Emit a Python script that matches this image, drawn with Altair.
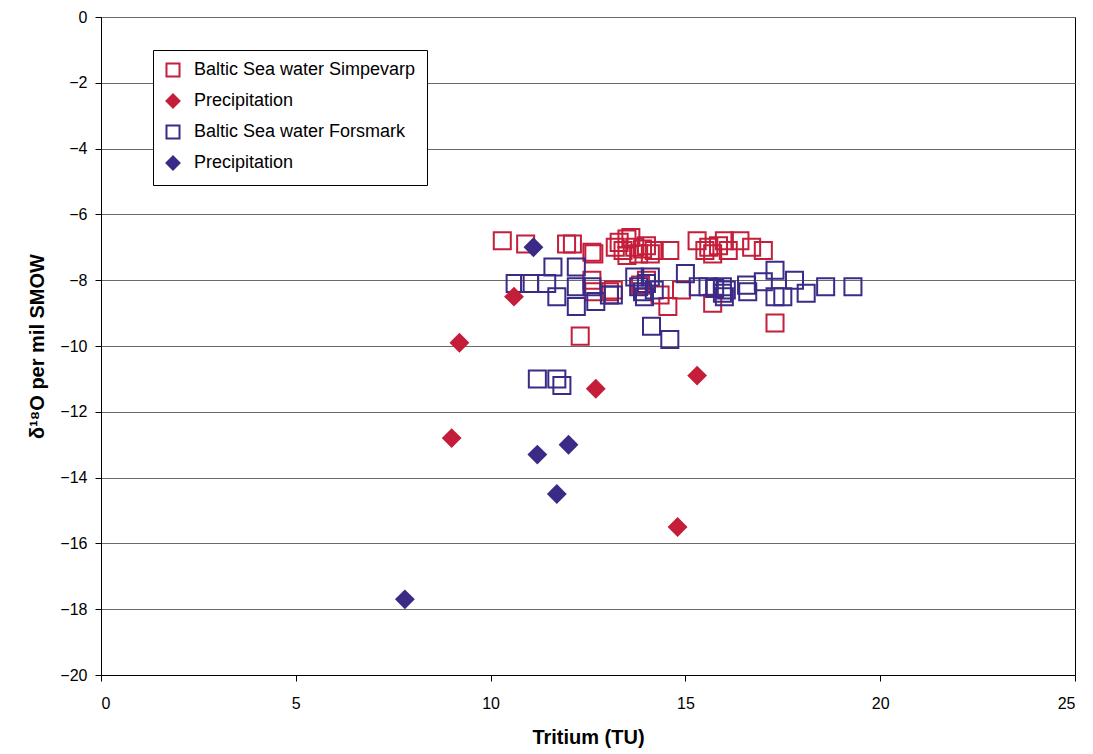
import altair as alt
import pandas as pd

# Series keys, legend labels and colours
series_keys = ["sim_sea", "sim_prec", "for_sea", "for_prec"]
series_labels = ["Baltic Sea water Simpevarp", "Precipitation",
                 "Baltic Sea water Forsmark", "Precipitation"]
RED = "#C41E3A"
BLUE = "#3B2A86"

# Baltic Sea water, Simpevarp: tritium (TU), d18O (per mil SMOW)
sim_sea_x = [10.3, 10.9, 11.95, 12.1, 12.6, 12.65, 12.6, 12.3,
             13.2, 13.3, 13.4, 13.5, 13.6, 13.7, 13.8, 13.9, 14.0, 14.1, 14.2, 13.5,
             14.6, 15.3, 15.5, 15.6, 15.7, 15.85, 16.0, 16.1, 16.4, 16.7, 17.0,
             13.15, 13.85, 14.0, 14.35, 14.55, 14.9, 15.7, 17.3, 12.65, 13.05]
sim_sea_y = [-6.8, -6.9, -6.9, -6.9, -7.15, -7.2, -8.0, -9.7,
             -7.0, -6.85, -7.1, -6.75, -6.7, -7.0, -7.2, -7.05, -6.95, -7.2, -7.1, -7.25,
             -7.1, -6.8, -7.1, -7.0, -7.2, -6.95, -6.8, -7.1, -6.8, -7.0, -7.1,
             -8.3, -8.15, -8.0, -8.45, -8.8, -8.3, -8.7, -9.3, -8.35, -8.35]

# Precipitation, Simpevarp
sim_prec_x = [10.6, 9.2, 9.0, 12.7, 15.3, 14.8]
sim_prec_y = [-8.5, -9.9, -12.8, -11.3, -10.9, -15.5]

# Baltic Sea water, Forsmark
for_sea_x = [10.63, 11.0, 11.44, 11.6, 11.7, 12.2, 12.2, 12.2, 12.6, 12.7,
             13.05, 13.15, 13.7, 13.8, 13.9, 14.0, 14.1, 14.2, 13.95, 14.13, 14.6,
             15.0, 15.33, 15.58, 15.75, 15.95, 15.95, 16.0, 16.05, 16.57, 16.6,
             17.0, 17.3, 17.3, 17.5, 17.8, 18.1, 18.6, 19.3,
             11.2, 11.7, 11.83]
for_sea_y = [-8.1, -8.1, -8.1, -7.6, -8.5, -7.6, -8.2, -8.8, -8.2, -8.65,
             -8.45, -8.45, -7.9, -8.2, -8.35, -8.1, -7.9, -8.3, -8.5, -9.4, -9.8,
             -7.8, -8.2, -8.2, -8.25, -8.2, -8.4, -8.5, -8.3, -8.15, -8.35,
             -8.05, -7.7, -8.5, -8.5, -8.0, -8.4, -8.2, -8.2,
             -11.0, -11.0, -11.2]

# Precipitation, Forsmark
for_prec_x = [11.1, 11.2, 12.0, 11.7, 7.8]
for_prec_y = [-7.0, -13.3, -13.0, -14.5, -17.7]

frames = []
for key, xs, ys in [("sim_sea", sim_sea_x, sim_sea_y),
                    ("for_sea", for_sea_x, for_sea_y),
                    ("sim_prec", sim_prec_x, sim_prec_y),
                    ("for_prec", for_prec_x, for_prec_y)]:
    frames.append(pd.DataFrame({"tritium": xs, "d18o": ys, "series": key}))
df = pd.concat(frames, ignore_index=True)

label_map = "{" + ", ".join(f"'{k}': '{v}'" for k, v in zip(series_keys, series_labels)) + "}"
legend = alt.Legend(
    title=None, orient="none", legendX=52, legendY=33,
    labelExpr=f"{label_map}[datum.value]",
    labelFont="Liberation Sans", labelFontSize=18, labelColor="black", labelLimit=400,
    symbolSize=170, symbolStrokeWidth=2, rowPadding=9, labelOffset=12,
    padding=11, strokeColor="black", fillColor="white",
)

# tick labels with a true minus sign
minus_expr = "datum.value < 0 ? '\u2212' + abs(datum.value) : '' + datum.value"

chart = alt.Chart(df).mark_point(filled=False, size=290, strokeWidth=2, opacity=1).encode(
    x=alt.X("tritium:Q", title="Tritium (TU)",
            scale=alt.Scale(domain=[0, 25], nice=False),
            axis=alt.Axis(values=[0, 5, 10, 15, 20, 25], grid=False, tickSize=6,
                          labelPadding=14, titlePadding=16, labelExpr=minus_expr)),
    y=alt.Y("d18o:Q", title="δ¹⁸O per mil SMOW",
            scale=alt.Scale(domain=[-20, 0], nice=False),
            axis=alt.Axis(values=list(range(-20, 1, 2)), grid=True, tickSize=6,
                          labelPadding=8, titlePadding=12, labelExpr=minus_expr)),
    color=alt.Color("series:N", scale=alt.Scale(domain=series_keys, range=[RED, RED, BLUE, BLUE]),
                    legend=legend),
    shape=alt.Shape("series:N", scale=alt.Scale(domain=series_keys,
                                                range=["square", "diamond", "square", "diamond"]),
                    legend=legend),
    fill=alt.Fill("series:N", scale=alt.Scale(domain=series_keys,
                                              range=["transparent", RED, "transparent", BLUE]),
                  legend=legend),
).properties(
    width=974, height=658,
    autosize=alt.AutoSizeParams(type="none"),
    padding={"left": 101, "top": 17, "right": 18, "bottom": 79},
).configure_view(
    stroke="black", strokeWidth=1,
).configure_axis(
    labelFont="Liberation Sans", labelFontSize=16, labelColor="black",
    titleFont="Liberation Sans", titleFontSize=20, titleFontWeight="bold", titleColor="black",
    domainColor="black", tickColor="black", gridColor="#6a6a6a", gridWidth=1,
)

chart.save("out.html", embed_options={"renderer": "svg", "actions": False})
